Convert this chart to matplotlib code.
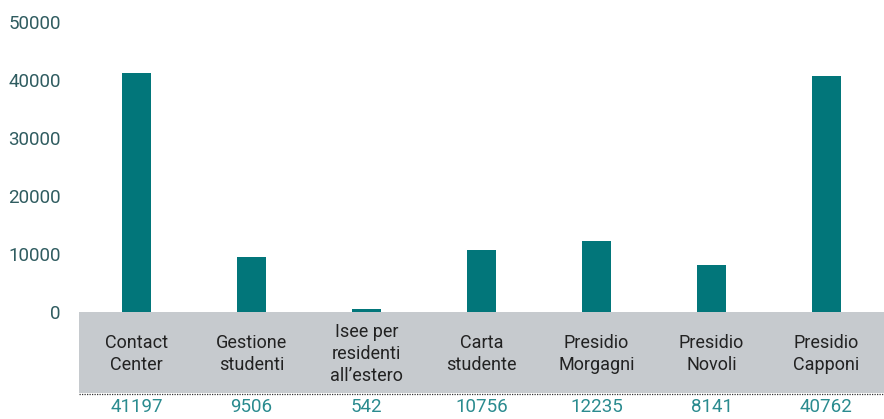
import matplotlib.pyplot as plt
from matplotlib.patches import Rectangle
from matplotlib.lines import Line2D

categories = ["Contact\nCenter", "Gestione\nstudenti", "Isee per\nresidenti\nall\u2019estero",
              "Carta\nstudente", "Presidio\nMorgagni", "Presidio\nNovoli", "Presidio\nCapponi"]
values = [41197, 9506, 542, 10756, 12235, 8141, 40762]
yticks = [0, 10000, 20000, 30000, 40000, 50000]

BAR = "#02767A"
BAND = "#C6CACE"
TICK = "#2F5C60"
VAL = "#2A8B8F"

plt.rcParams['font.family'] = ['Roboto', 'DejaVu Sans']

W, H = 884, 419
fig = plt.figure(figsize=(W / 100, H / 100), dpi=100)
left, right, top, zero = 79, 884, 22, 312
ax = fig.add_axes([left / W, (H - zero) / H, (right - left) / W, (zero - top) / H])

x = list(range(len(values)))
ax.bar(x, values, width=0.26, color=BAR, zorder=2)
ax.set_xlim(-0.5, len(values) - 0.5)
ax.set_ylim(0, 50000)
ax.set_yticks(yticks)
ax.set_yticklabels([str(t) for t in yticks], fontsize=13.5, color=TICK)
ax.tick_params(axis='y', length=0, pad=13)
ax.set_xticks([])
for s in ax.spines.values():
    s.set_visible(False)

# grey category band below the axis
ph = zero - top
band_h = (393 - zero) / ph
ax.add_patch(Rectangle((0, -band_h), 1, band_h, transform=ax.transAxes,
                       facecolor=BAND, edgecolor='none', clip_on=False, zorder=1))
for i, c in enumerate(categories):
    ax.text(i, -(354 - zero) / ph, c, transform=ax.get_xaxis_transform(), clip_on=False,
            ha='center', va='center', fontsize=13, color="#222222",
            linespacing=1.3)

# dotted separator and values
fig.add_artist(Line2D([left / W, 1], [(H - 394) / H] * 2, color="#333333",
                      linestyle=(0, (1, 1)), linewidth=0.9))
for i, v in enumerate(values):
    ax.text(i, -(407 - zero) / ph, str(v), transform=ax.get_xaxis_transform(), clip_on=False,
            ha='center', va='center', fontsize=13.5, color=VAL)

fig.savefig("out.png", dpi=100)
